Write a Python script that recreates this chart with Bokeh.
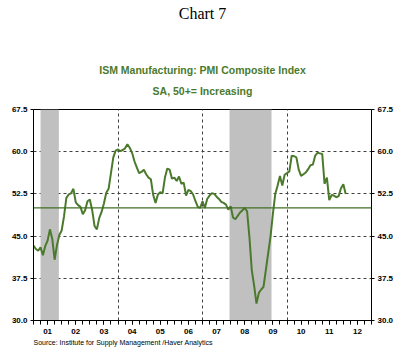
from bokeh.plotting import figure
from bokeh.models import Range1d, FixedTicker, LinearAxis, Title, Span, PrintfTickFormatter
from bokeh.embed import file_html
from bokeh.resources import INLINE

# ---- data ----
year_labels = ["01", "02", "03", "04", "05", "06", "07", "08", "09", "10", "11", "12"]
label_years = [2001, 2002, 2003, 2004, 2005, 2006, 2007, 2008, 2009, 2010, 2011, 2012]
pmi_2001 = [43.3, 42.7, 42.4, 43.0, 41.6, 43.2, 44.2, 46.2, 44.5, 40.8, 43.4, 45.2]
pmi_2002 = [46.0, 48.5, 51.8, 52.4, 52.6, 53.4, 51.0, 50.5, 50.2, 48.9, 49.6, 51.2]
pmi_2003 = [51.5, 49.6, 46.8, 46.2, 48.2, 49.3, 50.8, 52.7, 53.4, 56.2, 59.0, 60.2]
pmi_2004 = [60.4, 60.1, 60.3, 60.6, 61.3, 60.7, 59.8, 58.3, 57.2, 56.2, 56.4, 56.8]
pmi_2005 = [56.0, 55.4, 55.1, 52.3, 50.9, 52.4, 52.8, 52.6, 55.4, 57.0, 56.8, 55.2]
pmi_2006 = [55.4, 54.8, 55.6, 54.3, 54.5, 52.2, 53.2, 53.0, 52.4, 51.2, 50.2, 50.0]
pmi_2007 = [51.2, 50.0, 51.6, 52.2, 52.6, 52.5, 52.0, 51.6, 51.1, 50.9, 50.6, 49.7]
pmi_2008 = [50.3, 48.3, 48.0, 48.6, 49.2, 49.6, 50.0, 49.4, 44.8, 38.9, 36.2, 33.0]
pmi_2009 = [34.9, 35.5, 36.0, 39.0, 42.0, 45.0, 49.0, 52.5, 54.0, 55.7, 54.0, 55.9]
pmi_2010 = [56.2, 56.5, 59.3, 59.2, 59.0, 56.8, 55.7, 56.0, 56.3, 56.9, 57.6, 57.7]
pmi_2011 = [59.3, 59.8, 59.7, 59.6, 54.3, 55.4, 51.4, 52.3, 52.2, 51.9, 52.1, 53.5]
pmi_2012 = [54.2, 52.5]
recession_start = [2001.25, 2007.96]
recession_end = [2001.9, 2009.45]
y_ticks = [30.0, 37.5, 45.0, 52.5, 60.0, 67.5]
grid_y = [37.5, 45.0, 52.5, 60.0]
grid_x = [2004, 2007, 2010]
threshold = 50.0

pmi = (pmi_2001 + pmi_2002 + pmi_2003 + pmi_2004 + pmi_2005 + pmi_2006 +
       pmi_2007 + pmi_2008 + pmi_2009 + pmi_2010 + pmi_2011 + pmi_2012)
dates = [2001 + i / 12 for i in range(len(pmi))]

GREEN = "#4B7A2C"
FONT = "Liberation Sans"

p = figure(width=407, height=354, output_backend="svg", toolbar_location=None,
           x_range=Range1d(2001, 2013), y_range=Range1d(30, 67.5),
           min_border_left=33, min_border_right=36, min_border_top=0, min_border_bottom=34)
p.background_fill_color = "white"
p.border_fill_color = "white"
p.outline_line_color = "black"
p.outline_line_width = 1

# recession shading
p.quad(left=recession_start, right=recession_end, bottom=30, top=67.5,
       fill_color="#C0C0C0", line_color=None)

# threshold line
p.add_layout(Span(location=threshold, dimension="width", line_color="#3F6F22", line_width=1.3))

# data line
p.line(dates, pmi, line_color=GREEN, line_width=2)

# grids
p.xgrid.ticker = FixedTicker(ticks=grid_x)
p.ygrid.ticker = FixedTicker(ticks=grid_y)
for g in (p.xgrid[0], p.ygrid[0]):
    g.grid_line_color = "#404040"
    g.grid_line_dash = "3 3"
    g.grid_line_width = 1

# x axis
mid_years = [y + 0.5 for y in label_years]
quarters = [2001 + q / 4 for q in range(49)]
xa = p.xaxis[0]
xa.ticker = FixedTicker(ticks=mid_years, minor_ticks=quarters)
xa.major_label_overrides = {m: lab for m, lab in zip(mid_years, year_labels)}
xa.major_tick_out = 4
xa.major_tick_in = 0
xa.minor_tick_out = 4
xa.minor_tick_in = 0
xa.major_label_standoff = 4
xa.major_label_text_font = FONT
xa.major_label_text_font_style = "bold"
xa.major_label_text_font_size = "8px"
xa.major_label_text_color = "black"
xa.axis_line_color = "black"

# y axes
ya = p.yaxis[0]
ra = LinearAxis()
p.add_layout(ra, "right")
for ax in (ya, ra):
    ax.ticker = FixedTicker(ticks=y_ticks)
    ax.formatter = PrintfTickFormatter(format="%.1f")
    ax.major_tick_out = 3
    ax.major_tick_in = 0
    ax.minor_tick_out = 0
    ax.minor_tick_in = 0
    ax.major_label_standoff = 3
    ax.major_label_text_font = FONT
    ax.major_label_text_font_style = "bold"
    ax.major_label_text_font_size = "8px"
    ax.major_label_text_color = "black"
    ax.axis_line_color = "black"

# titles (first added sits closest to the plot)
def spacer(standoff, side="above"):
    p.add_layout(Title(text=" ", text_font_size="1px", standoff=standoff), side)

spacer(8)
p.add_layout(Title(text="SA, 50+= Increasing", align="center", text_font=FONT,
                   text_font_style="bold", text_font_size="10.5px", text_color=GREEN,
                   standoff=4), "above")
p.add_layout(Title(text="ISM Manufacturing: PMI Composite Index", align="center", text_font=FONT,
                   text_font_style="bold", text_font_size="10.5px", text_color=GREEN,
                   standoff=10), "above")
spacer(29)
p.add_layout(Title(text="Chart 7", align="center", text_font="Liberation Serif",
                   text_font_style="normal", text_font_size="16px", text_color="black",
                   standoff=5), "above")
p.add_layout(Title(text="Source:  Institute for Supply Management /Haver Analytics", align="left",
                   text_font=FONT, text_font_style="normal", text_font_size="7px",
                   text_color="black", standoff=0), "below")

open("out.html", "w").write(file_html(p, INLINE))
